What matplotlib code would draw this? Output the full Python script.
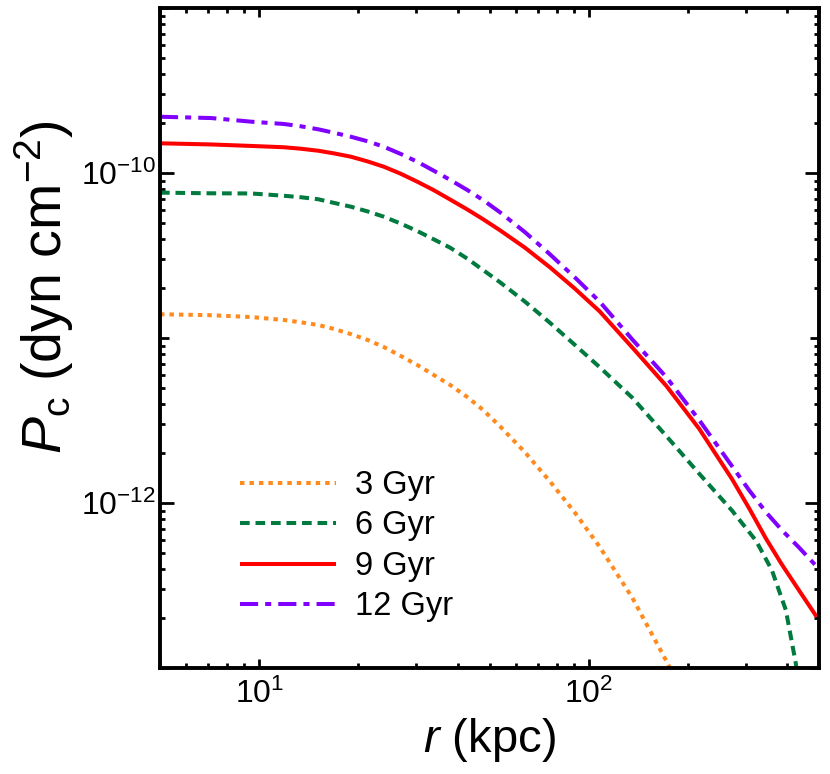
import numpy as np
import matplotlib
matplotlib.use("Agg")
import matplotlib.pyplot as plt
from matplotlib.ticker import FixedLocator, NullFormatter, FixedFormatter

plt.rcParams['font.family'] = ['Liberation Sans', 'DejaVu Sans']
plt.rcParams['mathtext.fontset'] = 'custom'
plt.rcParams['mathtext.rm'] = 'Liberation Sans'
plt.rcParams['mathtext.it'] = 'Liberation Sans:italic'
plt.rcParams['mathtext.bf'] = 'Liberation Sans:bold'

# ---- data (r in kpc, log10 P in dyn cm^-2) ----
r_common = [5.0, 7.16, 9.46, 11.9, 13.39, 15.1, 16.85, 18.96, 21.35, 23.9, 26.85,
            30.2, 33.79, 38.0, 42.81, 47.8, 53.8, 64.1, 76.2, 90.7, 108.0, 135.8,
            172.0]

r_3 = r_common + [188.3]
logP_3 = [-10.856, -10.862, -10.873, -10.891, -10.905, -10.921, -10.945, -10.976,
          -11.012, -11.055, -11.108, -11.164, -11.223, -11.285, -11.358, -11.436,
          -11.535, -11.693, -11.868, -12.057, -12.266, -12.576, -12.957, -13.107]

r_6 = r_common + [216.4, 272.3, 321.9, 359.7, 396.6, 425.0, 440.0]
logP_6 = [-10.119, -10.123, -10.124, -10.138, -10.147, -10.159, -10.181, -10.204,
          -10.233, -10.265, -10.306, -10.352, -10.401, -10.453, -10.519, -10.588,
          -10.662, -10.780, -10.907, -11.041, -11.177, -11.363, -11.594, -11.822,
          -12.046, -12.228, -12.407, -12.649, -12.970, -13.194]

r_9 = r_common + [216.4, 272.3, 306.4, 345.0, 385.5, 434.0, 492.0]
logP_9 = [-9.820, -9.827, -9.836, -9.844, -9.853, -9.865, -9.881, -9.901, -9.930,
          -9.962, -10.004, -10.053, -10.103, -10.161, -10.221, -10.280, -10.347,
          -10.453, -10.571, -10.700, -10.839, -11.059, -11.290, -11.550, -11.855,
          -12.030, -12.215, -12.372, -12.527, -12.690]

r_12 = r_common + [216.4, 272.3, 306.4, 345.0, 385.5, 434.0, 492.0]
logP_12 = [-9.659, -9.667, -9.689, -9.703, -9.717, -9.735, -9.756, -9.780, -9.808,
           -9.841, -9.884, -9.932, -9.985, -10.042, -10.103, -10.164, -10.238,
           -10.359, -10.492, -10.632, -10.780, -11.010, -11.237, -11.497, -11.777,
           -11.921, -12.055, -12.164, -12.268, -12.385]

labels = ['3 Gyr', '6 Gyr', '9 Gyr', '12 Gyr']
colors = ['#FF8A1E', '#007A3E', '#FF0000', '#7F00FF']
styles = [(0, (1.1, 1.25)), (0, (2.4, 1.45)), '-', (0, (4.5, 1.75, 1.5, 1.75))]

xlim = (5, 500)
ylim = (1e-13, 1e-9)
x_major = [10, 100]
x_major_labels = [r'$10^{1}$', r'$10^{2}$']
y_major = [1e-13, 1e-12, 1e-11, 1e-10, 1e-9]
y_major_labels = ['', r'$10^{-12}$', '', r'$10^{-10}$', '']

fig = plt.figure(figsize=(8.3, 7.74), dpi=100)
ax = fig.add_axes([160/830, 106/774, 659/830, 660/774])

series = [(r_3, logP_3), (r_6, logP_6), (r_9, logP_9), (r_12, logP_12)]
for (r, lp), lab, c, ls in zip(series, labels, colors, styles):
    ax.plot(r, 10.0 ** np.array(lp), color=c, ls=ls, lw=2.9, label=lab,
            solid_capstyle='butt', dash_capstyle='butt', solid_joinstyle='round')

ax.set_xscale('log')
ax.set_yscale('log')
ax.set_xlim(*xlim)
ax.set_ylim(*ylim)

ax.xaxis.set_major_locator(FixedLocator(x_major))
ax.xaxis.set_major_formatter(FixedFormatter(x_major_labels))
xminor = [k * 10 ** e for e in (0, 1, 2) for k in range(2, 10)]
ax.xaxis.set_minor_locator(FixedLocator([v for v in xminor if 5 <= v <= 500]))
ax.xaxis.set_minor_formatter(NullFormatter())

ax.yaxis.set_major_locator(FixedLocator(y_major))
ax.yaxis.set_major_formatter(FixedFormatter(y_major_labels))
yminor = [k * 10.0 ** e for e in (-13, -12, -11, -10) for k in range(2, 10)]
ax.yaxis.set_minor_locator(FixedLocator(yminor))
ax.yaxis.set_minor_formatter(NullFormatter())

for s in ax.spines.values():
    s.set_linewidth(2.8)

ax.tick_params(which='both', direction='in', top=True, right=True, width=2.0,
               labelsize=23, colors='black')
ax.tick_params(axis='x', which='major', length=6.5, pad=8)
ax.tick_params(axis='x', which='minor', length=3.3)
ax.tick_params(axis='y', which='major', length=10, pad=3)
ax.tick_params(axis='y', which='minor', length=3.3)

# medium-length ticks at the unlabeled decades
for t, v in zip(ax.yaxis.get_major_ticks(), y_major):
    if v in (1e-11, 1e-13, 1e-9):
        t.tick1line.set_markersize(6.5)
        t.tick2line.set_markersize(6.5)

ax.set_xlabel(r'$\mathit{r}$ (kpc)', fontsize=34)
ax.set_ylabel(r'$\mathit{P}_{\mathrm{c}}$ (dyn cm$^{-2}$)', fontsize=40)
ax.xaxis.set_label_coords(0.5, -0.072)
ax.yaxis.set_label_coords(-0.128, 0.5765)

leg = ax.legend(loc='upper left', bbox_to_anchor=(0.121, 0.300), frameon=False,
                fontsize=23.5, handlelength=2.95, handletextpad=0.58,
                labelspacing=0.29, borderpad=0, borderaxespad=0)

fig.savefig('out.png', dpi=100)
